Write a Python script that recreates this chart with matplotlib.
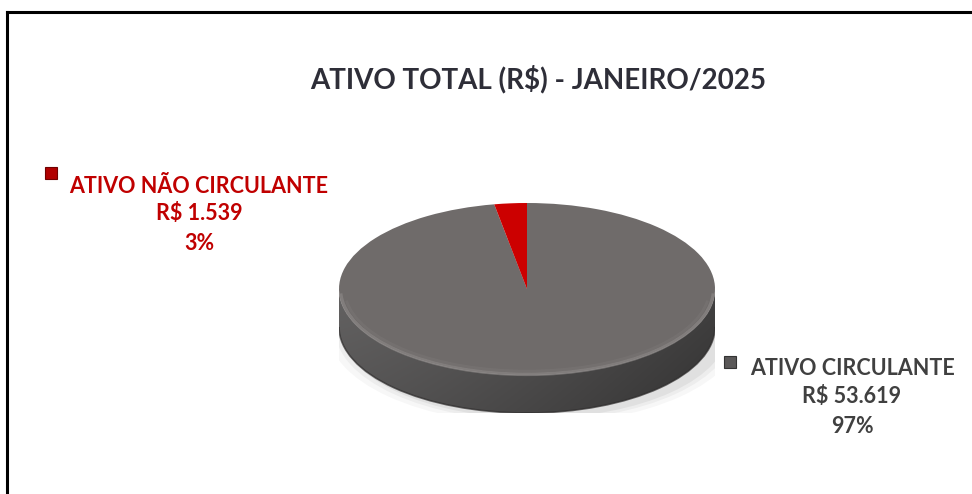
import matplotlib
matplotlib.use('Agg')
import matplotlib.pyplot as plt
import numpy as np
from matplotlib.patches import Rectangle, Polygon, Ellipse, Arc
from matplotlib.lines import Line2D

# ---------------- data ----------------
categories = ['ATIVO CIRCULANTE', 'ATIVO NÃO CIRCULANTE']
values = [53619, 1539]
value_labels = ['R$ 53.619', 'R$ 1.539']
pct_labels = ['97%', '3%']
title_text = 'ATIVO TOTAL (R$) - JANEIRO/2025'
colors = ['#6f6b6a', '#cc0000']
label_colors = ['#404040', '#c00000']

W, H = 972, 494
FONT = 'Lato'

fig = plt.figure(figsize=(W / 100, H / 100), dpi=100)
fig.patch.set_facecolor('white')


def fx(px):
    return px / W


def fy(py):
    return 1 - py / H


# border (top and left lines)
fig.add_artist(Line2D([fx(7), 1.0], [fy(12), fy(12)], color='black', lw=2.2,
                      transform=fig.transFigure))
fig.add_artist(Line2D([fx(7), fx(7)], [fy(12), 0.0], color='black', lw=2.2,
                      transform=fig.transFigure))

# ---------------- pie geometry ----------------
x0, x1 = 339, 715          # horizontal extent of ellipse (px)
ytop = 203                 # top of top face
b_px = 86                  # semi-minor axis (px)
depth_px = 38              # side thickness (px)
d = depth_px / b_px        # thickness in data units
ybot = ytop + 2 * b_px + depth_px

ax = fig.add_axes([fx(x0), fy(ybot), (x1 - x0) / W, (ybot - ytop) / H])

# soft shadow under pie
for s, a in [(1.10, 0.03), (1.06, 0.04), (1.03, 0.05)]:
    ax.add_patch(Ellipse((0.04, -d - 0.03), 2 * s, 2 * s, facecolor='#000000',
                         alpha=a, edgecolor='none', zorder=0))

# side of the cylinder: gradient image clipped to the side band
t = np.linspace(np.pi, 2 * np.pi, 200)
lower_top = np.column_stack([np.cos(t), np.sin(t)])
lower_bot = np.column_stack([np.cos(t[::-1]), np.sin(t[::-1]) - d])
side_poly = Polygon(np.vstack([lower_top, lower_bot]), closed=True,
                    facecolor='none', edgecolor='none')
ax.add_patch(side_poly)
gx = np.linspace(0, 1, 300)
gy = np.linspace(0, 1, 120)
GX, GY = np.meshgrid(gx, gy)
# lighter at left, darker to the right and towards the bottom
base = 0.39 - 0.13 * GX ** 1.3 - 0.06 * GY
img = np.dstack([base, base * 0.985, base * 0.985])
im = ax.imshow(np.clip(img, 0, 1), extent=(-1, 1, -1 - d, 0), origin='upper',
               aspect='auto', zorder=1, interpolation='bilinear')
im.set_clip_path(side_poly)

# top face from data
ax.pie(values, colors=colors, startangle=90, counterclock=False,
       radius=1, center=(0, 0), frame=True,
       wedgeprops=dict(linewidth=0, zorder=3))
ax.set_aspect('auto')
ax.set_xlim(-1, 1)
ax.set_ylim(-1 - d, 1)
ax.axis('off')

# bevel highlight at front rim
ax.add_patch(Arc((0, 0), 1.985, 1.985, theta1=183, theta2=357,
                 color='#8a8685', lw=2.5, alpha=0.7, zorder=4))
ax.add_patch(Arc((0, 0), 1.94, 1.91, theta1=188, theta2=352,
                 color='#7a7675', lw=2.0, alpha=0.5, zorder=4))
# dark bottom edge
ax.add_patch(Arc((0, -d), 2.0, 2.0, theta1=180, theta2=360,
                 color='#2e2c2c', lw=1.2, alpha=0.7, zorder=4))

# ---------------- texts ----------------
fig.text(fx(538.5), fy(88), title_text, ha='center', va='baseline',
         fontsize=20, fontweight='bold', color='#2e2e38', family=FONT)


def label_block(cx, baselines, idx):
    lines = [categories[idx], value_labels[idx], pct_labels[idx]]
    for s, by in zip(lines, baselines):
        fig.text(fx(cx), fy(by), s, ha='center', va='baseline', fontsize=15.5,
                 fontweight='bold', color=label_colors[idx], family=FONT)


label_block(199, [193, 220, 250], 1)
label_block(852, [375, 403, 433], 0)

# legend-like markers
fig.add_artist(Rectangle((fx(45), fy(179)), 12 / W, 12 / H,
                         facecolor='#b00000', edgecolor='#700000', lw=0.8,
                         transform=fig.transFigure))
fig.add_artist(Rectangle((fx(724), fy(368)), 12 / W, 12 / H,
                         facecolor='#5a5858', edgecolor='#333333', lw=0.8,
                         transform=fig.transFigure))

fig.savefig('out.png', dpi=100, facecolor='white')
